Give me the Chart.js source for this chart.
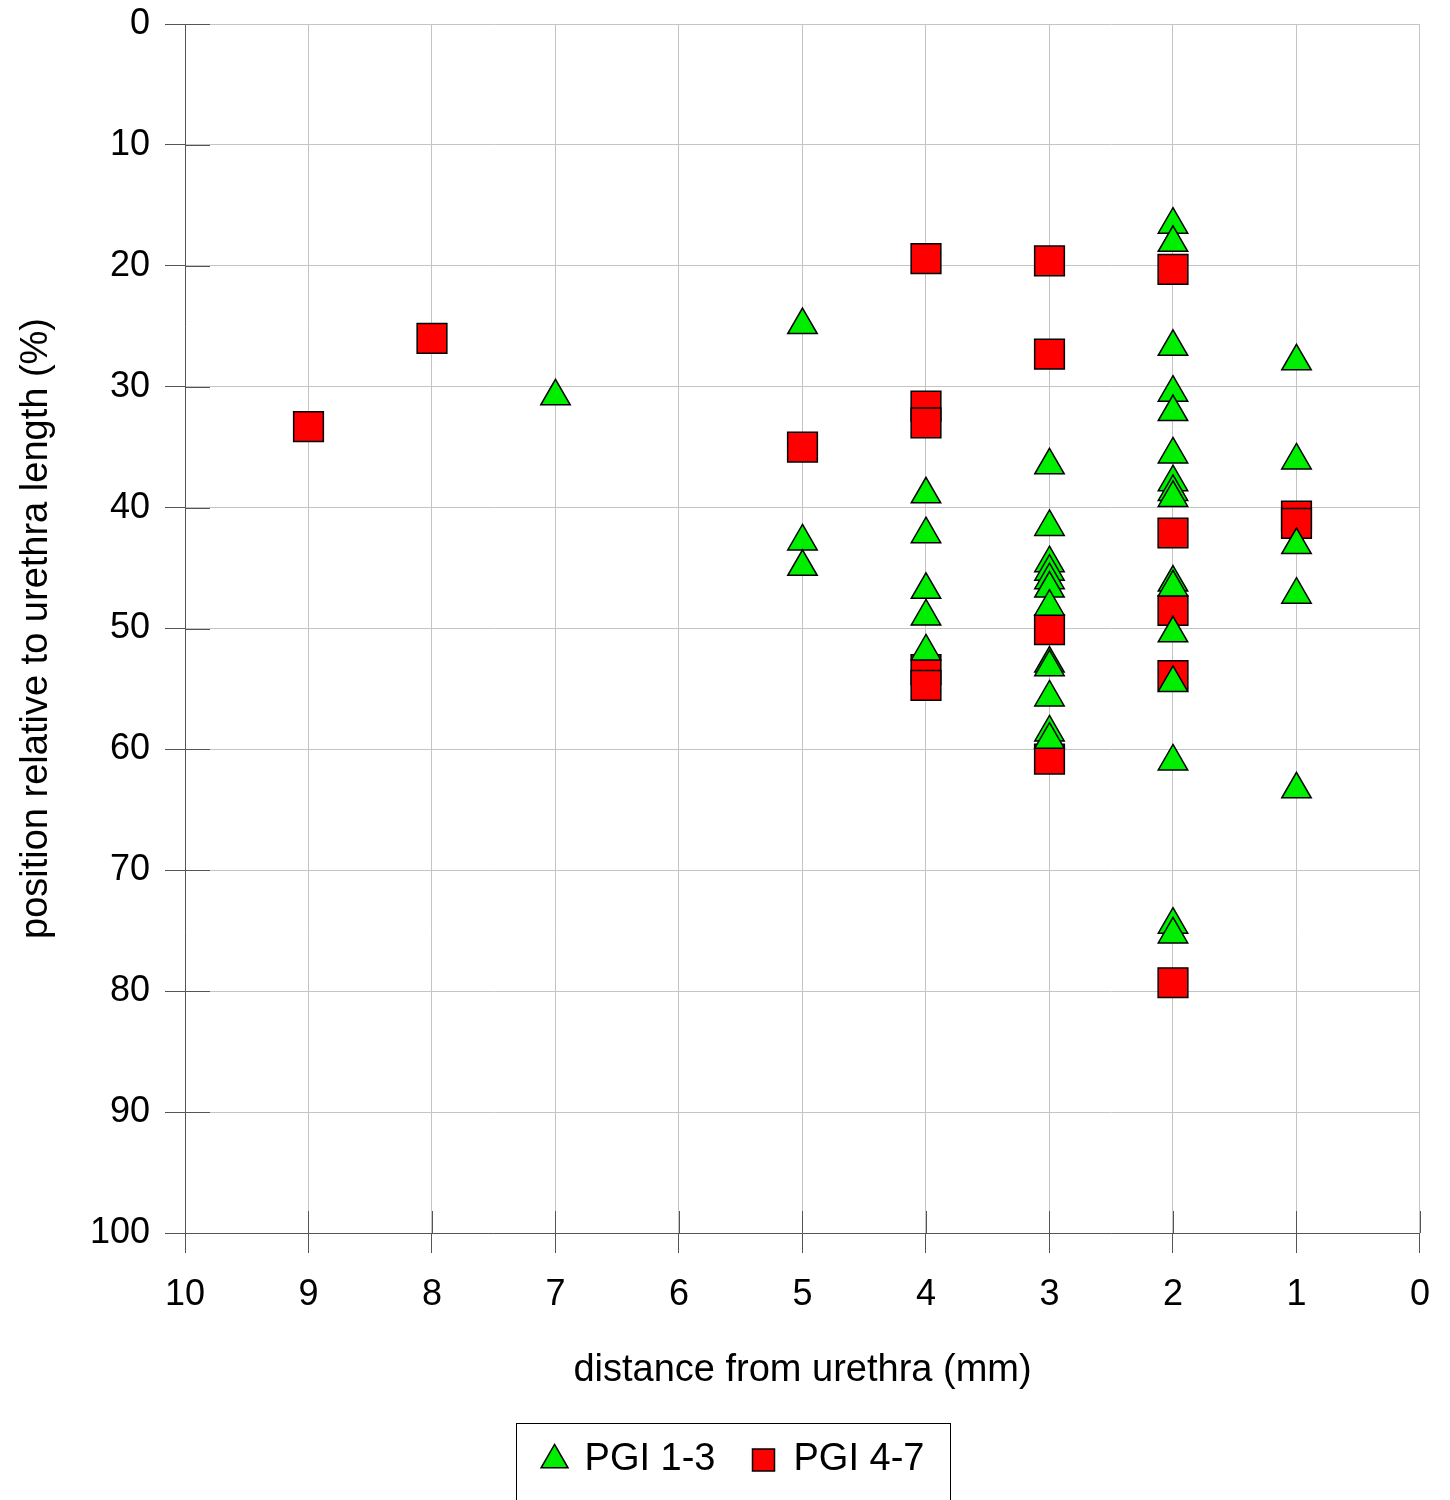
<!DOCTYPE html>
<html>
<head>
<meta charset="utf-8">
<script src="https://cdn.jsdelivr.net/npm/chart.js@4.4.1/dist/chart.umd.min.js"></script>
<style>
  html, body { margin: 0; padding: 0; background: #fff; }
  #wrap { width: 1450px; height: 1500px; }
</style>
</head>
<body>
<div id="wrap"><canvas id="chart"></canvas></div>
<script>
// distance from urethra (mm) / position relative to urethra length (%)
const pgiLowX = [7,
  5, 5, 5,
  4, 4, 4, 4, 4,
  3, 3, 3, 3, 3, 3, 3, 3, 3, 3, 3, 3,
  2, 2, 2, 2, 2, 2, 2, 2, 2, 2, 2, 2, 2, 2, 2, 2,
  1, 1, 1, 1, 1];
const pgiLowY = [30.8,
  24.9, 42.8, 44.9,
  38.9, 42.2, 46.8, 49.0, 51.9,
  36.5, 41.6, 44.6, 45.3, 46.0, 46.7, 48.2, 52.9, 53.2, 55.7, 58.6, 59.2,
  16.6, 18.1, 26.7, 30.5, 32.1, 35.6, 37.9, 38.7, 39.2, 46.2, 46.6, 50.4, 54.5, 61.0, 74.5, 75.3,
  27.9, 36.1, 43.1, 47.2, 63.3];

const pgiHighX = [9, 8, 5,
  4, 4, 4, 4, 4,
  3, 3, 3, 3,
  2, 2, 2, 2, 2,
  1, 1];
const pgiHighY = [33.3, 26.0, 35.0,
  19.4, 31.6, 33.0, 53.4, 54.7,
  19.6, 27.3, 50.1, 60.8,
  20.3, 42.1, 48.5, 53.9, 79.3,
  40.7, 41.3];

const seriesNames = ['PGI 1-3', 'PGI 4-7'];
const xTitle = 'distance from urethra (mm)';
const yTitle = 'position relative to urethra length (%)';

const toPoints = (xs, ys) => xs.map((x, i) => ({ x: x, y: ys[i] }));

const FONT = 'Liberation Sans, Arial, sans-serif';
const AXIS = '#555555';

// tick marks crossing the axes + box round the legend
const axisDecor = {
  id: 'axisDecor',
  afterLayout(chart) {
    // legend sits a bit left of the plot centre in the original
    const lg = chart.legend;
    if (lg) { lg.left += 20; lg.right += 20; }
  },
  afterDraw(chart) {
    const ctx = chart.ctx;
    const a = chart.chartArea;
    const xs = chart.scales.x, ys = chart.scales.y;
    ctx.save();
    ctx.strokeStyle = AXIS;
    ctx.lineWidth = 1;
    ctx.beginPath();
    ys.ticks.forEach(t => {
      const py = Math.round(ys.getPixelForValue(t.value)) + 0.5;
      ctx.moveTo(a.left, py); ctx.lineTo(a.left + 25, py);
    });
    xs.ticks.forEach(t => {
      const px = Math.round(xs.getPixelForValue(t.value)) + 0.5;
      ctx.moveTo(px, a.bottom); ctx.lineTo(px, a.bottom - 22);
    });
    ctx.stroke();

    const lg = chart.legend;
    if (lg && lg.legendHitBoxes.length) {
      const hb = lg.legendHitBoxes;
      const left = hb[0].left - 28;
      const right = hb[hb.length - 1].left + hb[hb.length - 1].width + 25;
      ctx.strokeStyle = '#000';
      ctx.strokeRect(Math.round(left) + 0.5, 1423.5, Math.round(right - left), 120);
    }
    ctx.restore();
  }
};

new Chart(document.getElementById('chart'), {
  type: 'scatter',
  data: {
    datasets: [
      {
        label: seriesNames[0],
        data: toPoints(pgiLowX, pgiLowY),
        pointStyle: 'triangle',
        pointRadius: 17,
        pointHoverRadius: 17,
        backgroundColor: '#00ee00',
        borderColor: '#000',
        borderWidth: 1.5
      },
      {
        label: seriesNames[1],
        data: toPoints(pgiHighX, pgiHighY),
        pointStyle: 'rect',
        pointRadius: 21,
        pointHoverRadius: 21,
        backgroundColor: '#ff0000',
        borderColor: '#000',
        borderWidth: 1.5
      }
    ]
  },
  options: {
    responsive: true,
    maintainAspectRatio: false,
    animation: false,
    layout: { padding: { left: 8, right: 30, top: 24, bottom: 11 } },
    plugins: {
      tooltip: { enabled: false },
      legend: {
        position: 'bottom',
        labels: {
          usePointStyle: true,
          boxWidth: 22,
          boxHeight: 22,
          padding: 37,
          color: '#000',
          font: { family: FONT, size: 38 }
        }
      }
    },
    scales: {
      x: {
        type: 'linear',
        reverse: true,
        min: 0,
        max: 10,
        ticks: { stepSize: 1, color: '#000', padding: 20, font: { family: FONT, size: 36 } },
        grid: { color: '#c4c4c4', tickColor: AXIS, tickLength: 20 },
        border: { color: AXIS },
        title: { display: true, text: xTitle, color: '#000', font: { family: FONT, size: 38 }, padding: { top: 20, bottom: 11 } },
        afterFit: s => { s.height = 171; }
      },
      y: {
        type: 'linear',
        reverse: true,
        min: 0,
        max: 100,
        ticks: { stepSize: 10, color: '#000', padding: 15, font: { family: FONT, size: 36 } },
        grid: { color: '#c4c4c4', tickColor: AXIS, tickLength: 20 },
        border: { color: AXIS },
        title: { display: true, text: yTitle, color: '#000', font: { family: FONT, size: 38 }, padding: { top: 6, bottom: 36 } },
        afterFit: s => { s.width = 177; s.paddingTop = 20; s.paddingBottom = 20; }
      }
    }
  },
  plugins: [axisDecor]
});
</script>
</body>
</html>
